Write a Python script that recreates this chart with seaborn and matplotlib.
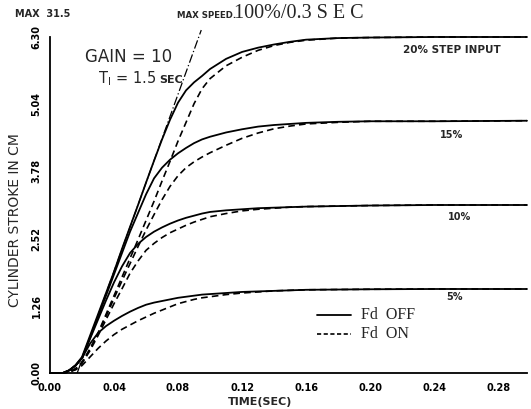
import matplotlib
matplotlib.use("Agg")
import matplotlib.pyplot as plt
import numpy as np
import pandas as pd
import seaborn as sns

# Time samples (s)
time = [0, 0.008, 0.012, 0.016, 0.02, 0.025, 0.03, 0.035, 0.04, 0.045, 0.05,
        0.055, 0.06, 0.065, 0.07, 0.075, 0.08, 0.085, 0.09, 0.095, 0.10, 0.11,
        0.12, 0.13, 0.14, 0.15, 0.16, 0.18, 0.20, 0.24, 0.298]

# Cylinder stroke (cm), Fd OFF
off_20 = [0, 0, 0.05, 0.15, 0.30, 0.70, 1.10, 1.50, 1.90, 2.33, 2.74,
          3.15, 3.57, 3.98, 4.38, 4.75, 5.07, 5.30, 5.45, 5.57, 5.70, 5.89,
          6.02, 6.10, 6.16, 6.21, 6.25, 6.28, 6.29, 6.30, 6.30]
off_15 = [0, 0, 0.05, 0.14, 0.28, 0.66, 1.05, 1.45, 1.85, 2.25, 2.65,
          3.00, 3.35, 3.65, 3.85, 4.00, 4.12, 4.22, 4.31, 4.38, 4.43, 4.51,
          4.57, 4.62, 4.65, 4.67, 4.69, 4.71, 4.72, 4.72, 4.73]
off_10 = [0, 0, 0.05, 0.14, 0.28, 0.64, 1.00, 1.36, 1.70, 2.00, 2.25,
          2.42, 2.55, 2.65, 2.73, 2.80, 2.86, 2.91, 2.95, 2.99, 3.02, 3.05,
          3.07, 3.09, 3.10, 3.11, 3.12, 3.13, 3.14, 3.15, 3.15]
off_5 = [0, 0, 0.05, 0.14, 0.28, 0.55, 0.75, 0.88, 0.98, 1.07, 1.15,
         1.22, 1.28, 1.32, 1.35, 1.38, 1.41, 1.43, 1.45, 1.47, 1.48, 1.50,
         1.52, 1.53, 1.54, 1.55, 1.56, 1.565, 1.57, 1.575, 1.575]

# Cylinder stroke (cm), Fd ON
on_20 = [0, 0, 0.02, 0.08, 0.20, 0.45, 0.75, 1.10, 1.45, 1.80, 2.15,
         2.50, 2.86, 3.22, 3.60, 3.97, 4.35, 4.70, 5.05, 5.33, 5.52, 5.76,
         5.92, 6.05, 6.14, 6.20, 6.24, 6.28, 6.29, 6.30, 6.30]
on_15 = [0, 0, 0.02, 0.08, 0.20, 0.45, 0.74, 1.06, 1.40, 1.73, 2.05,
         2.37, 2.68, 2.97, 3.25, 3.50, 3.70, 3.85, 3.96, 4.05, 4.13, 4.27,
         4.40, 4.50, 4.58, 4.63, 4.67, 4.70, 4.72, 4.72, 4.73]
on_10 = [0, 0, 0.02, 0.07, 0.18, 0.42, 0.70, 1.00, 1.30, 1.58, 1.87,
         2.10, 2.30, 2.43, 2.54, 2.63, 2.70, 2.77, 2.83, 2.88, 2.93, 2.99,
         3.04, 3.07, 3.09, 3.11, 3.12, 3.13, 3.14, 3.15, 3.15]
on_5 = [0, 0, 0.02, 0.06, 0.14, 0.30, 0.46, 0.60, 0.72, 0.82, 0.90,
        0.98, 1.05, 1.12, 1.18, 1.24, 1.30, 1.34, 1.38, 1.41, 1.43, 1.47,
        1.50, 1.52, 1.54, 1.55, 1.56, 1.565, 1.57, 1.575, 1.575]

# Maximum speed line: 100% stroke in 0.3 s
max_speed_t = [0.017, 0.0945]
max_speed_y = [0.0, 6.43]

step_labels = ["20% STEP INPUT", "15%", "10%", "5%"]
step_label_pos = [(0.251, 6.06), (0.251, 4.47), (0.256, 2.93), (0.253, 1.43)]

sns.set_theme(style="white")
plt.rcParams["font.family"] = ["DejaVu Sans"]

fig = plt.figure(figsize=(5.31, 4.09), dpi=100)
ax = fig.add_axes([50 / 531, 36 / 409, 477 / 531, 336 / 409])

series = {"OFF": [off_20, off_15, off_10, off_5],
          "ON": [on_20, on_15, on_10, on_5]}
steps = ["20", "15", "10", "5"]
rows = []
for fd, curves in series.items():
    for s, vals in zip(steps, curves):
        for t, v in zip(time, vals):
            rows.append({"time": t, "stroke": v, "step": s, "fd": fd})
df = pd.DataFrame(rows)

for (fd, s), grp in df.groupby(["fd", "step"], sort=False):
    sns.lineplot(data=grp, x="time", y="stroke", ax=ax, color="black",
                 lw=1.3 if fd == "OFF" else 1.2,
                 linestyle="-" if fd == "OFF" else (0, (4, 2.5)),
                 estimator=None, sort=False, legend=False, clip_on=False)

ax.plot(max_speed_t, max_speed_y, color="black", lw=0.9,
        linestyle=(0, (7, 2, 1, 2)), clip_on=False)

ax.set_xlim(0, 0.298)
ax.set_ylim(0, 6.30)
for side in ["top", "right"]:
    ax.spines[side].set_visible(False)
for side in ["left", "bottom"]:
    ax.spines[side].set_color("black")
    ax.spines[side].set_linewidth(1.3)

xt = np.arange(0, 0.2801, 0.02)
ax.set_xticks(xt)
ax.set_xticklabels([f"{v:.2f}" if round(v * 100) % 4 == 0 else "" for v in xt],
                   fontsize=7, fontweight="bold")
yt = np.arange(0, 6.301, 0.63)
ax.set_yticks(yt)
ax.set_yticklabels([f"{v:.2f}" if i % 2 == 0 else "" for i, v in enumerate(yt)],
                   fontsize=7, fontweight="bold", rotation=90, va="center")
ax.tick_params(axis="both", direction="out", length=4, width=1.1,
               colors="black", pad=2)
ax.tick_params(axis="x", pad=3)

ax.set_xlabel("TIME(SEC)", fontsize=8, fontweight="bold")
ax.xaxis.set_label_coords(0.44, -0.072)
ax.set_ylabel("CYLINDER STROKE IN CM", fontsize=10)
ax.yaxis.set_label_coords(-0.059, 0.455)

# Step-size annotations
for lab, (tx, ty) in zip(step_labels, step_label_pos):
    ax.text(tx, ty, lab, fontsize=7.5 if lab.startswith("20") else 7,
            fontweight="bold", ha="center", va="center")

ax.text(0.022, 5.83, "GAIN = 10", fontsize=12, ha="left")
ax.text(0.030, 5.44, r"T$_{\mathregular{I}}$ = 1.5", fontsize=10.5, ha="left")
ax.text(0.0682, 5.44, "SEC", fontsize=8, fontweight="bold", ha="left")

# Legend drawn as line samples with text
ax.plot([0.167, 0.188], [1.08, 1.08], color="black", lw=1.3, clip_on=False)
ax.plot([0.167, 0.188], [0.74, 0.74], color="black", lw=1.2,
        linestyle=(0, (2.5, 1.5)), clip_on=False)
ax.text(0.194, 1.08, "Fd  OFF", fontsize=11.5, family="Liberation Serif",
        va="center")
ax.text(0.194, 0.74, "Fd  ON", fontsize=11.5, family="Liberation Serif",
        va="center")

fig.text(15 / 531, 1 - 14 / 409, "MAX  31.5", fontsize=7, fontweight="bold",
         va="center")
fig.text(177 / 531, 1 - 15 / 409, "MAX SPEED.", fontsize=6.2,
         fontweight="bold", va="center")
fig.text(234 / 531, 1 - 14 / 409, "100%/0.3 S E C", fontsize=14.5,
         family="Liberation Serif", va="center")

fig.savefig("out.png", dpi=100, facecolor="white")
